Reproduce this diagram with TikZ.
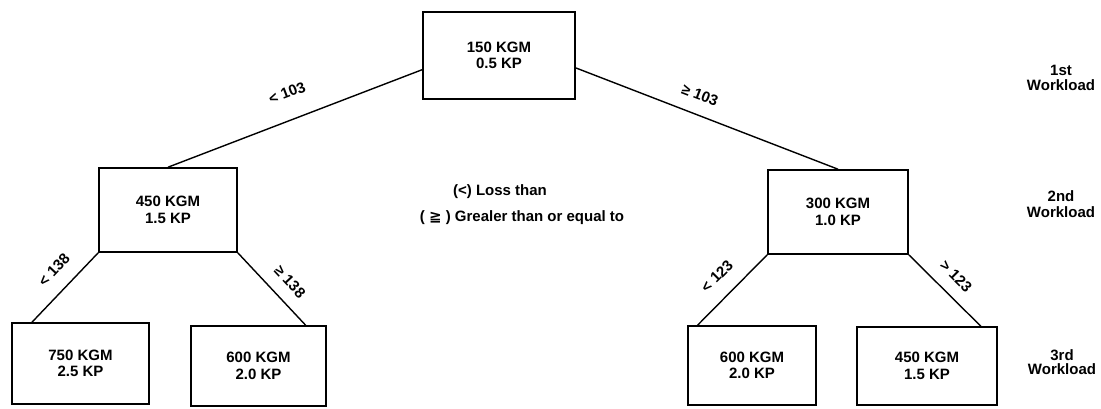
\documentclass[tikz,border=0pt]{standalone}
\usepackage{fontspec}
\setmainfont{Liberation Sans}
\newfontfamily\symfont{DejaVu Sans}
\usetikzlibrary{calc}
\tikzset{
  box/.style={draw, line width=1.6pt, rectangle, align=center, inner sep=0pt, font=\bfseries\fontsize{15}{16.5}\selectfont},
  lbl/.style={font=\bfseries\fontsize{15}{16}\selectfont, inner sep=1pt},
  conn/.style={line width=1.4pt},
}
\begin{document}
\begin{tikzpicture}[x=1pt,y=-1pt]
\useasboundingbox (0,0) rectangle (1101,408);
% boxes
\node[box, minimum width=152pt, minimum height=87pt] (top) at (499,55.5) {150 KGM\\0.5 KP};
\node[box, minimum width=138pt, minimum height=84pt] (L) at (168,210) {450 KGM\\1.5 KP};
\node[box, minimum width=140pt, minimum height=84pt] (R) at (838,212) {300 KGM\\1.0 KP};
\node[box, minimum width=137pt, minimum height=81pt] (LL) at (80.5,363.5) {750 KGM\\2.5 KP};
\node[box, minimum width=135pt, minimum height=80pt] (LR) at (258.5,366) {600 KGM\\2.0 KP};
\node[box, minimum width=128pt, minimum height=79pt] (RL) at (752,365.5) {600 KGM\\2.0 KP};
\node[box, minimum width=140pt, minimum height=78pt] (RR) at (927,366) {450 KGM\\1.5 KP};
% connectors
\draw[conn] ($(top.north west)!0.66!(top.south west)$) -- (L.north);
\draw[conn] ($(top.north east)!0.64!(top.south east)$) -- (R.north);
\draw[conn] (L.south west) -- ($(LL.north west)!0.15!(LL.north east)$);
\draw[conn] (L.south east) -- ($(LR.north west)!0.845!(LR.north east)$);
\draw[conn] (R.south west) -- ($(RL.north west)!0.08!(RL.north east)$);
\draw[conn] (R.south east) -- ($(RR.north west)!0.88!(RR.north east)$);
% edge labels
\node[lbl, rotate=21] (l1) at (287,93) {< 103};
\node[lbl, rotate=-21] (l2) at (700,95) {≥ 103};
\node[lbl, rotate=47] (l3) at (54,270) {< 138};
\node[lbl, rotate=-47] (l4) at (290,282) {≥ 138};
\node[lbl, rotate=45] (l5) at (717,276) {< 123};
\node[lbl, rotate=-45] (l6) at (956,276) {> 123};
% legend
\node[lbl] (leg1) at (500,192) {(<) Loss than};
\node[lbl] (leg2) at (522,218) {( {\symfont\bfseries ≧} ) Grealer than or equal to};
% workload labels
\node[lbl, align=center, font=\bfseries\fontsize{15}{15.5}\selectfont] (w1) at (1061,78) {1st\\Workload};
\node[lbl, align=center, font=\bfseries\fontsize{15}{15.5}\selectfont] (w2) at (1061,204) {2nd\\Workload};
\node[lbl, align=center, font=\bfseries\fontsize{15}{14}\selectfont] (w3) at (1062,362) {3rd\\Workload};
\end{tikzpicture}
\end{document}
